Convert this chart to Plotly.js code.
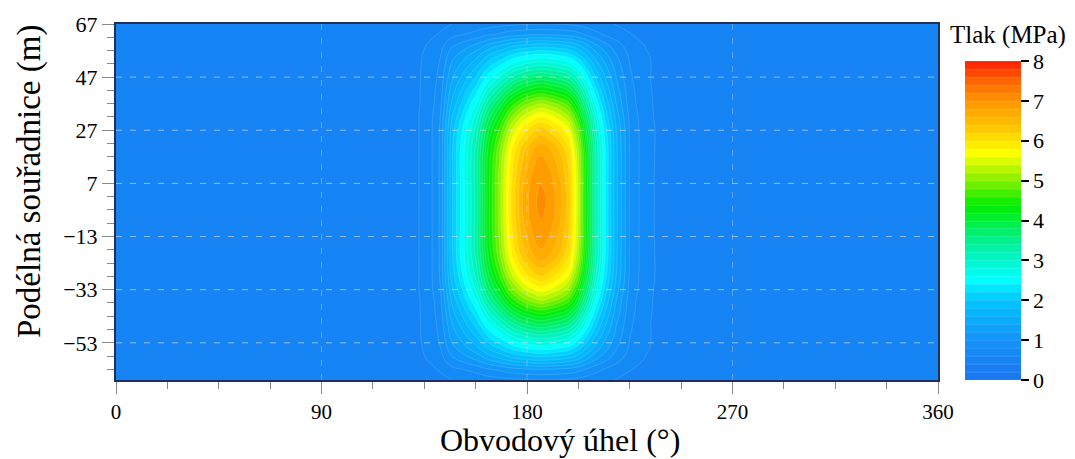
<!DOCTYPE html>
<html>
<head>
<meta charset="utf-8">
<script src="https://cdn.plot.ly/plotly-3.0.1.min.js"></script>
<style>html,body{margin:0;padding:0;background:#fff;}#chart{width:1075px;height:459px;}</style>
</head>
<body>
<div id="chart"></div>
<script>
// Circumferential angle (deg)
const angles = [0, 120, 132, 138, 142, 147, 152, 158, 163, 168, 173, 178, 182, 186, 190, 194, 198, 202, 206, 210, 214, 219, 225, 232, 240, 360];
// Longitudinal coordinate (m)
const positions = [-67, -63, -59, -55, -50, -46, -42, -37, -33, -28, -20, -10, 0, 10, 20, 28, 33, 37, 42, 46, 50, 55, 59, 63, 67];
// Pressure (MPa), one row per position, one column per angle
const pressure = [
  [0.5,0.5,0.51,0.53,0.55,0.60,0.63,0.66,0.70,0.73,0.76,0.78,0.79,0.80,0.80,0.79,0.78,0.75,0.70,0.66,0.63,0.59,0.55,0.52,0.51,0.5],
  [0.5,0.5,0.53,0.57,0.62,0.74,0.80,0.88,0.98,1.04,1.12,1.16,1.19,1.20,1.19,1.17,1.14,1.08,0.98,0.87,0.79,0.70,0.61,0.55,0.51,0.5],
  [0.5,0.5,0.55,0.63,0.72,0.96,1.09,1.25,1.44,1.58,1.73,1.82,1.87,1.90,1.88,1.84,1.78,1.65,1.44,1.24,1.07,0.89,0.70,0.59,0.52,0.5],
  [0.5,0.5,0.56,0.67,0.79,1.13,1.32,1.55,1.82,2.03,2.24,2.39,2.45,2.50,2.47,2.41,2.33,2.12,1.82,1.52,1.29,1.02,0.77,0.62,0.53,0.5],
  [0.5,0.5,0.57,0.69,0.84,1.28,1.54,1.86,2.24,2.52,2.83,3.03,3.14,3.20,3.15,3.07,2.95,2.66,2.24,1.82,1.50,1.15,0.81,0.63,0.53,0.5],
  [0.5,0.5,0.57,0.70,0.87,1.38,1.70,2.09,2.56,2.93,3.32,3.59,3.72,3.80,3.73,3.63,3.48,3.11,2.56,2.04,1.65,1.22,0.84,0.63,0.52,0.5],
  [0.5,0.5,0.57,0.72,0.90,1.50,1.86,2.33,2.90,3.34,3.82,4.14,4.30,4.40,4.32,4.19,4.01,3.56,2.90,2.28,1.80,1.31,0.87,0.64,0.52,0.5],
  [0.5,0.5,0.57,0.73,0.94,1.63,2.07,2.63,3.33,3.87,4.47,4.87,5.07,5.20,5.10,4.94,4.71,4.14,3.33,2.57,2.00,1.41,0.90,0.65,0.52,0.5],
  [0.5,0.5,0.58,0.76,0.99,1.75,2.23,2.86,3.63,4.23,4.89,5.34,5.55,5.70,5.59,5.41,5.15,4.53,3.63,2.79,2.15,1.50,0.94,0.66,0.52,0.5],
  [0.5,0.5,0.58,0.77,1.02,1.87,2.40,3.09,3.93,4.59,5.32,5.80,6.04,6.20,6.08,5.88,5.60,4.92,3.93,3.01,2.31,1.60,0.97,0.67,0.53,0.5],
  [0.5,0.5,0.58,0.77,1.03,1.95,2.54,3.29,4.22,4.95,5.76,6.30,6.57,6.75,6.61,6.39,6.08,5.32,4.22,3.20,2.44,1.65,0.98,0.67,0.53,0.5],
  [0.5,0.5,0.58,0.77,1.03,1.95,2.54,3.33,4.31,5.08,5.94,6.52,6.81,6.96,6.86,6.62,6.28,5.47,4.31,3.23,2.44,1.66,0.98,0.67,0.52,0.5],
  [0.5,0.5,0.58,0.77,1.03,1.95,2.54,3.30,4.30,5.10,6.00,6.60,6.90,7.08,6.95,6.70,6.35,5.50,4.30,3.23,2.44,1.66,0.98,0.67,0.52,0.5],
  [0.5,0.5,0.58,0.77,1.03,1.95,2.54,3.33,4.31,5.08,5.94,6.52,6.81,6.96,6.86,6.62,6.28,5.47,4.31,3.23,2.44,1.66,0.98,0.67,0.52,0.5],
  [0.5,0.5,0.58,0.77,1.03,1.95,2.54,3.29,4.22,4.95,5.76,6.30,6.57,6.75,6.61,6.39,6.08,5.32,4.22,3.20,2.44,1.65,0.98,0.67,0.53,0.5],
  [0.5,0.5,0.58,0.77,1.02,1.87,2.40,3.09,3.93,4.59,5.32,5.80,6.04,6.20,6.08,5.88,5.60,4.92,3.93,3.01,2.31,1.60,0.97,0.67,0.53,0.5],
  [0.5,0.5,0.58,0.76,0.99,1.75,2.23,2.86,3.63,4.23,4.89,5.34,5.55,5.70,5.59,5.41,5.15,4.53,3.63,2.79,2.15,1.50,0.94,0.66,0.52,0.5],
  [0.5,0.5,0.57,0.73,0.94,1.63,2.07,2.63,3.33,3.87,4.47,4.87,5.07,5.20,5.10,4.94,4.71,4.14,3.33,2.57,2.00,1.41,0.90,0.65,0.52,0.5],
  [0.5,0.5,0.57,0.72,0.90,1.50,1.86,2.33,2.90,3.34,3.82,4.14,4.30,4.40,4.32,4.19,4.01,3.56,2.90,2.28,1.80,1.31,0.87,0.64,0.52,0.5],
  [0.5,0.5,0.57,0.70,0.87,1.38,1.70,2.09,2.56,2.93,3.32,3.59,3.72,3.80,3.73,3.63,3.48,3.11,2.56,2.04,1.65,1.22,0.84,0.63,0.52,0.5],
  [0.5,0.5,0.57,0.69,0.84,1.28,1.54,1.86,2.24,2.52,2.83,3.03,3.14,3.20,3.15,3.07,2.95,2.66,2.24,1.82,1.50,1.15,0.81,0.63,0.53,0.5],
  [0.5,0.5,0.56,0.67,0.79,1.13,1.32,1.55,1.82,2.03,2.24,2.39,2.45,2.50,2.47,2.41,2.33,2.12,1.82,1.52,1.29,1.02,0.77,0.62,0.53,0.5],
  [0.5,0.5,0.55,0.63,0.72,0.96,1.09,1.25,1.44,1.58,1.73,1.82,1.87,1.90,1.88,1.84,1.78,1.65,1.44,1.24,1.07,0.89,0.70,0.59,0.52,0.5],
  [0.5,0.5,0.53,0.57,0.62,0.74,0.80,0.88,0.98,1.04,1.12,1.16,1.19,1.20,1.19,1.17,1.14,1.08,0.98,0.87,0.79,0.70,0.61,0.55,0.51,0.5],
  [0.5,0.5,0.51,0.53,0.55,0.60,0.63,0.66,0.70,0.73,0.76,0.78,0.79,0.80,0.80,0.79,0.78,0.75,0.70,0.66,0.63,0.59,0.55,0.52,0.51,0.5]
];
const xTicks = [0, 90, 180, 270, 360];
const yTicks = [67, 47, 27, 7, -13, -33, -53];
const cbTicks = [0, 1, 2, 3, 4, 5, 6, 7, 8];
const cbTitle = 'Tlak (MPa)';
const xTitle = 'Obvodový úhel (°)';
const yTitle = 'Podélná souřadnice (m)';

const font = 'Liberation Serif, Times New Roman, serif';

const colorscale = [
  [0, 'rgb(26,118,240)'],
  [0.125, 'rgb(18,146,248)'],
  [0.25, 'rgb(0,198,255)'],
  [0.3125, 'rgb(0,255,255)'],
  [0.4, 'rgb(0,242,180)'],
  [0.55, 'rgb(0,238,0)'],
  [0.625, 'rgb(130,240,0)'],
  [0.7125, 'rgb(255,255,0)'],
  [0.8, 'rgb(255,192,0)'],
  [0.875, 'rgb(255,150,0)'],
  [0.9375, 'rgb(255,100,0)'],
  [1, 'rgb(255,30,0)']
];

const trace = {
  type: 'contour',
  x: angles,
  y: positions,
  z: pressure,
  zmin: 0, zmax: 8,
  autocontour: false,
  contours: {start: 0, end: 8, size: 0.2, coloring: 'fill'},
  line: {color: 'rgba(255,255,255,0.28)', width: 0.5, smoothing: 1.3},
  colorscale: colorscale,
  colorbar: {
    x: (965 - 116) / 822, xanchor: 'left', xref: 'paper',
    y: 0, yanchor: 'bottom', ypad: 0, xpad: 0,
    thickness: 56, thicknessmode: 'pixels',
    len: 319, lenmode: 'pixels',
    outlinewidth: 0,
    tickvals: cbTicks, ticks: 'outside', ticklen: 8, tickwidth: 2, tickcolor: '#000',
    tickfont: {family: font, size: 22, color: '#000'}
  },
  hoverinfo: 'skip'
};

const shapes = [];
yTicks.slice(1).forEach(v => shapes.push({type: 'line', xref: 'paper', x0: 0, x1: 1, yref: 'y', y0: v, y1: v, layer: 'above', line: {color: 'rgba(230,230,230,0.6)', width: 1, dash: '6px,8px'}}));
xTicks.slice(1, -1).forEach(v => shapes.push({type: 'line', yref: 'paper', y0: 0, y1: 1, xref: 'x', x0: v, x1: v, layer: 'above', line: {color: 'rgba(230,230,230,0.35)', width: 1, dash: '6px,8px'}}));

const layout = {
  width: 1075, height: 459,
  margin: {l: 116, r: 137, t: 24, b: 79, autoexpand: false},
  paper_bgcolor: '#fff', plot_bgcolor: '#fff',
  font: {family: font, color: '#000'},
  xaxis: {
    range: [0, 360], tickvals: xTicks, ticks: 'outside', ticklen: 12, tickcolor: '#888', tickwidth: 1,
    minor: {dtick: 22.5, ticks: 'outside', ticklen: 7, tickcolor: '#888', showgrid: false},
    showgrid: false, zeroline: false, showline: true, linecolor: '#1f2f55', linewidth: 2, mirror: true,
    tickfont: {family: font, size: 21}, automargin: false
  },
  yaxis: {
    range: [-67, 67], tickvals: yTicks, ticks: 'outside', ticklen: 12, tickcolor: '#888', tickwidth: 1,
    minor: {dtick: 5, tick0: 7, ticks: 'outside', ticklen: 7, tickcolor: '#888', showgrid: false},
    showgrid: false, zeroline: false, showline: true, linecolor: '#1f2f55', linewidth: 2, mirror: true,
    tickfont: {family: font, size: 22}, automargin: false
  },
  annotations: [
    {text: cbTitle, xref: 'paper', yref: 'paper', x: (1008 - 116) / 822, y: (380 - 35) / 356,
     xanchor: 'center', yanchor: 'middle', showarrow: false, font: {family: font, size: 25, color: '#000'}},
    {text: xTitle, xref: 'paper', yref: 'paper', x: (560 - 116) / 822, y: (380 - 440) / 356,
     xanchor: 'center', yanchor: 'middle', showarrow: false, font: {family: font, size: 32, color: '#000'}},
    {text: yTitle, xref: 'paper', yref: 'paper', x: (29 - 116) / 822, y: (380 - 182) / 356, textangle: -90,
     xanchor: 'center', yanchor: 'middle', showarrow: false, font: {family: font, size: 33, color: '#000'}}
  ],
  shapes: shapes,
  showlegend: false
};

Plotly.newPlot('chart', [trace], layout, {displayModeBar: false, staticPlot: true});
</script>
</body>
</html>
